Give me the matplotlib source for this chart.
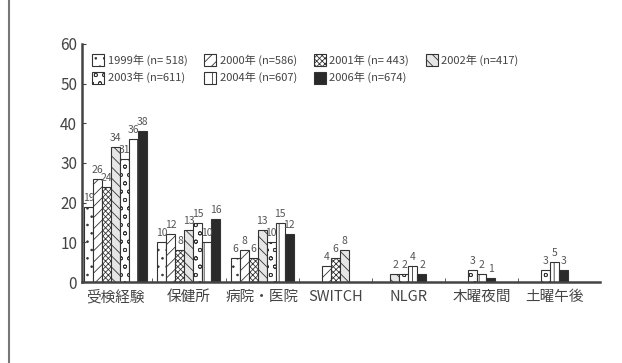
import matplotlib
matplotlib.use("Agg")
import matplotlib.pyplot as plt
import numpy as np
from matplotlib.lines import Line2D

plt.rcParams["font.family"] = ["Noto Sans CJK JP", "DejaVu Sans"]
plt.rcParams["hatch.linewidth"] = 0.6

categories = ["受検経験", "保健所", "病院・医院", "SWITCH", "NLGR", "木曜夜間", "土曜午後"]
years = ["1999年 (n= 518)", "2000年 (n=586)", "2001年 (n= 443)", "2002年 (n=417)",
         "2003年 (n=611)", "2004年 (n=607)", "2006年 (n=674)"]
nan = np.nan
v1999 = [19, 10, 6, nan, nan, nan, nan]
v2000 = [26, 12, 8, 4, nan, nan, nan]
v2001 = [24, 8, 6, 6, nan, nan, nan]
v2002 = [34, 13, 13, 8, 2, nan, nan]
v2003 = [31, 15, 10, nan, 2, 3, 3]
v2004 = [36, 10, 15, nan, 4, 2, 5]
v2006 = [38, 16, 12, nan, 2, 1, 3]
series = [v1999, v2000, v2001, v2002, v2003, v2004, v2006]

# bar styles per year
faces = ["white", "white", "white", "#e6e6e6", "white", "white", "#2a2a2a"]
hatches = ["..", "///", "xxxxxx", "\\\\\\", "oo", "||", None]

fig = plt.figure(figsize=(6.22, 3.63), dpi=100)
ax = fig.add_axes([0.132, 0.223, 0.833, 0.656])

# frame line on the left of the page
fig.add_artist(Line2D([0.014, 0.014], [0, 1], color="#777777", lw=1.5))

width = 0.123
handles = [None] * len(series)
for ci in range(len(categories)):
    present = [si for si in range(len(series)) if not np.isnan(series[si][ci])]
    n = len(present)
    for k, si in enumerate(present):
        x = ci + (k - (n - 1) / 2) * width
        val = series[si][ci]
        b = ax.bar(x, val, width, color=faces[si], edgecolor="#333333",
                   hatch=hatches[si], linewidth=0.8, label=years[si])
        handles[si] = b
        ax.text(x, val + 1.0, f"{int(val)}", ha="center", va="bottom",
                fontsize=7.5, color="#555555")

ax.set_ylim(0, 60)
ax.set_xlim(-0.46, 6.62)
ax.set_yticks(range(0, 61, 10))
ax.set_xticks(range(len(categories)))
ax.set_xticklabels(categories, fontsize=10.5, color="#444444")
ax.set_xticks(np.arange(0.5, 6.5, 1), minor=True)
ax.tick_params(axis="x", which="major", length=0, pad=6)
ax.tick_params(axis="x", which="minor", length=3, direction="in", color="#444444")
ax.tick_params(axis="y", length=3, direction="in", labelsize=11, labelcolor="#444444",
               color="#444444")
for s in ["top", "right"]:
    ax.spines[s].set_visible(False)
for s in ["left", "bottom"]:
    ax.spines[s].set_linewidth(1.8)
    ax.spines[s].set_color("#444444")

order = [0, 4, 1, 5, 2, 6, 3]
leg = ax.legend([handles[i] for i in order], [years[i] for i in order],
                ncol=4, loc="upper left", bbox_to_anchor=(0.0, 1.0),
                frameon=False, fontsize=8, handlelength=1.1, handleheight=1.3,
                handletextpad=0.3, columnspacing=1.5, labelspacing=0.5)
for t in leg.get_texts():
    t.set_color("#444444")

fig.savefig("out.png", dpi=100)
